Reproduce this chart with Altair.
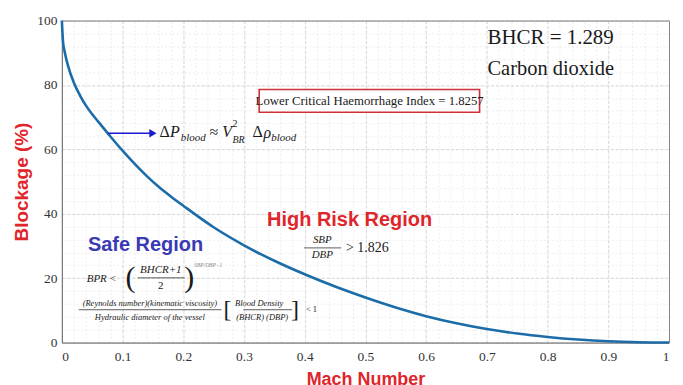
import altair as alt
import pandas as pd

# ---- curve data ----
mach = [0, 0.002, 0.005, 0.01, 0.02, 0.03, 0.04, 0.05, 0.06, 0.08, 0.1, 0.12, 0.14, 0.16,
        0.18, 0.2, 0.25, 0.3, 0.35, 0.4, 0.45, 0.5, 0.55, 0.6, 0.65, 0.7, 0.75, 0.8, 0.85,
        0.9, 0.95, 1.0]
blockage = [100, 93.3, 90, 86.1, 80.6, 76.7, 73.5, 70.9, 68.6, 64.0, 59.6, 55.5, 51.7, 48.3,
            45.3, 42.5, 35.8, 30.2, 25.4, 21.2, 17.4, 14.0, 10.9, 8.2, 6.0, 4.2, 2.8, 1.75, 0.95,
            0.4, 0.1, 0]

x_ticks = [0, 0.1, 0.2, 0.3, 0.4, 0.5, 0.6, 0.7, 0.8, 0.9, 1]
y_ticks = [0, 20, 40, 60, 80, 100]
x_minor = [round(i * 0.02, 2) for i in range(51)]
y_minor = [i * 4 for i in range(26)]

# ---- annotation texts (x, y in data units) ----
serif_upright = [  # x, y, text, size
    (0.701, 94.7, "BHCR = 1.289", 21),
    (0.701, 84.8, "Carbon dioxide", 20.5),
    (0.161, 65.3, "Δ", 16),
    (0.243, 65.3, "≈", 16),
    (0.281, 67.8, "2", 10),
    (0.314, 65.3, "Δ", 16),
    (0.468, 29.4, "> 1.826", 14),
    (0.079, 19.8, "<", 11),
    (0.402, 10.5, "< 1", 8.5),
]
serif_italic = [
    (0.178, 65.3, "P", 16),
    (0.196, 63.6, "blood", 11),
    (0.264, 65.3, "V", 16),
    (0.281, 63.0, "BR", 10),
    (0.332, 65.0, "ρ", 16),
    (0.345, 63.6, "blood", 11),
    (0.041, 19.8, "BPR", 11),
]
serif_center_italic = [
    (0.429, 31.7, "SBP", 11),
    (0.429, 27.1, "DBP", 11),
    (0.163, 22.4, "BHCR+1", 11),
    (0.145, 12.2, "(Reynolds number)(kinematic viscosity)", 8.5),
    (0.145, 8.0, "Hydraulic diameter of the vessel", 8.5),
    (0.325, 12.2, "Blood Density", 8.5),
    (0.330, 8.0, "(BHCR) (DBP)", 8.5),
]
serif_center_upright = [
    (0.163, 17.6, "2", 11),
    (0.113, 20.1, "(", 30),
    (0.210, 20.1, ")", 30),
    (0.273, 10.2, "[", 24),
    (0.384, 10.2, "]", 24),
    (0.507, 75.0, "Lower Critical Haemorrhage Index = 1.8257", 12.8),
]
tiny_sup = [(0.218, 24.0, "SBP/DBP−1", 5.5)]
fraction_rules = [  # x, x2, y
    (0.399, 0.460, 29.4),
    (0.125, 0.202, 20.1),
    (0.028, 0.263, 10.2),
    (0.299, 0.379, 10.2),
]
region_labels = [  # x, y, text, color
    (0.338, 38.1, "High Risk Region", "#e0252b"),
    (0.043, 30.3, "Safe Region", "#3a3ab4"),
]
arrow = [(0.076, 0.150, 65.0)]
box = [(0.325, 0.688, 71.5, 78.6)]

xs = alt.Scale(domain=[0, 1], nice=False, zero=False)
ys = alt.Scale(domain=[0, 100], nice=False, zero=False)
RED = "#e0252b"

curve = pd.DataFrame({"mach": mach, "blockage": blockage})

main = alt.Chart(curve).mark_line(color="#1b6ca8", strokeWidth=2.6, interpolate="monotone").encode(
    x=alt.X("mach:Q", scale=xs, axis=alt.Axis(
        values=x_ticks, format="~g", title="Mach Number", grid=True,
        gridColor="#cfcfcf", gridDash=[3, 2], gridWidth=0.8,
        ticks=False, labelPadding=7, labelFont="Liberation Serif", labelFontSize=13.5,
        labelColor="#333", domainColor="#666",
        titleFont="Liberation Sans", titleFontWeight="bold", titleFontSize=18,
        titleColor=RED, titlePadding=8)),
    y=alt.Y("blockage:Q", scale=ys, axis=alt.Axis(
        values=y_ticks, title="Blockage (%)", grid=True,
        gridColor="#cfcfcf", gridDash=[3, 2], gridWidth=0.8,
        ticks=False, labelPadding=5, labelFont="Liberation Serif", labelFontSize=13.5,
        labelColor="#333", domainColor="#666",
        titleFont="Liberation Sans", titleFontWeight="bold", titleFontSize=19,
        titleColor=RED, titlePadding=5)),
)

minor = alt.Chart(curve).mark_point(opacity=0).encode(
    x=alt.X("mach:Q", scale=xs, axis=alt.Axis(
        orient="top", values=x_minor, labels=False, ticks=False, title=None,
        grid=True, gridColor="#e6e6e6", gridDash=[2, 2], gridWidth=0.7,
        domainColor="#888")),
    y=alt.Y("blockage:Q", scale=ys, axis=alt.Axis(
        orient="right", values=y_minor, labels=False, ticks=False, title=None,
        grid=True, gridColor="#e6e6e6", gridDash=[2, 2], gridWidth=0.7,
        domainColor="#888")),
)


def X(f):
    return alt.X(f, type="quantitative", scale=xs, axis=None)


def Y(f):
    return alt.Y(f, type="quantitative", scale=ys, axis=None)


def texts(rows, align, italic, font="Liberation Serif", color="#1a1a1a"):
    df = pd.DataFrame(rows, columns=["x", "y", "t", "s"])
    kw = dict(align=align, baseline="middle", font=font, color=color)
    if italic:
        kw["fontStyle"] = "italic"
    return alt.Chart(df).mark_text(**kw).encode(
        x=X("x"), y=Y("y"), text="t:N", size=alt.Size("s:Q", scale=None, legend=None))


box_df = pd.DataFrame(box, columns=["x", "x2", "y", "y2"])
box_layer = alt.Chart(box_df).mark_rect(fill="white", stroke="#d03035", strokeWidth=1.6).encode(
    x=X("x"), x2="x2:Q", y=Y("y"), y2="y2:Q")

rules_df = pd.DataFrame(fraction_rules, columns=["x", "x2", "y"])
rules_layer = alt.Chart(rules_df).mark_rule(color="#333", strokeWidth=0.8).encode(
    x=X("x"), x2="x2:Q", y=Y("y"))

arrow_df = pd.DataFrame(arrow, columns=["x", "x2", "y"])
arrow_line = alt.Chart(arrow_df).mark_rule(color="#1a1ad0", strokeWidth=1.6).encode(
    x=X("x"), x2="x2:Q", y=Y("y"))
arrow_head = alt.Chart(arrow_df).mark_point(shape="triangle-right", filled=True,
                                            color="#1a1ad0", size=70, opacity=1).encode(
    x=X("x2"), y=Y("y"))

reg_df = pd.DataFrame(region_labels, columns=["x", "y", "t", "c"])
reg_layer = alt.Chart(reg_df).mark_text(align="left", baseline="middle", font="Liberation Sans",
                                         fontWeight="bold", fontSize=20).encode(
    x=X("x"), y=Y("y"), text="t:N", color=alt.Color("c:N", scale=None, legend=None))

chart = alt.layer(
    minor, main, box_layer, rules_layer, arrow_line, arrow_head,
    texts(serif_upright, "left", False),
    texts(serif_italic, "left", True),
    texts(serif_center_italic, "center", True),
    texts(serif_center_upright, "center", False),
    texts(tiny_sup, "left", True, color="#888"),
    reg_layer,
).resolve_axis(x="independent", y="independent").properties(
    width=609, height=323, autosize="none",
    padding={"left": 54, "top": 12, "right": 6, "bottom": 50},
).configure_view(stroke=None).configure(background="white")

chart.save("out.html", embed_options={"renderer": "svg", "actions": False})
